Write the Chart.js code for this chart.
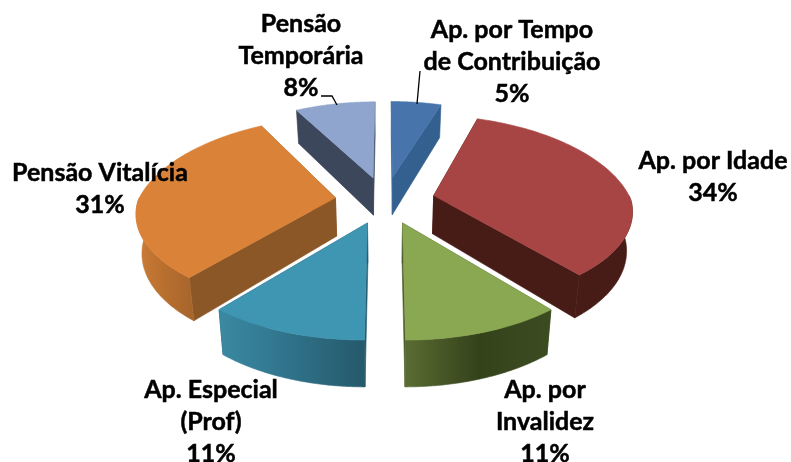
<!DOCTYPE html>
<html><head><meta charset="utf-8">
<style>html,body{margin:0;padding:0;background:#fff}#wrap{width:791px;height:462px}</style>
<script src="https://cdn.jsdelivr.net/npm/chart.js@4/dist/chart.umd.min.js"></script>
</head><body><div id="wrap"><canvas id="c" width="791" height="462"></canvas></div>
<script>
const categories = ["Ap. por Tempo de Contribuição","Ap. por Idade","Ap. por Invalidez","Ap. Especial (Prof)","Pensão Vitalícia","Pensão Temporária"];
const values = [5,34,11,11,31,8];
const labelLines = [["Ap. por Tempo","de Contribuição"],["Ap. por Idade"],["Ap. por","Invalidez"],["Ap. Especial","(Prof)"],["Pensão Vitalícia"],["Pensão","Temporária"]];
const labelCenterX = [512,713,545,211,100,301];
const labelFirstY = [30,161,390,390,173,24];
const topColors = ["#4674ab","#a74545","#8aa851","#3f96b2","#da8238","#8fa5cd"];
const cutColors = ["#34608f","#471b16","#4a5a2a","#25596b","#8c5727","#3d475c"];
const wallStops = [["#34608f","#34608f"],["#471b16","#471b16"],["#5a6c33","#34421a","#3c4c21"],["#3a89a3","#2f7289","#25596b"],["#cc7c38","#b9702f","#a9662c"],["#3d475c","#3d475c"]];
const leaderLines = [[[417,104],[420,71]],null,null,null,null,[[337,105],[332,96],[321,96]]];

const PERSP_Y = 0.00073, PERSP_XF = 0.00071, PERSP_XB = 0.00096, TILT = 0.4716, DEPTH = 38.5, TAPER = 0.00062;
const pie3d = {
  id:'pie3d',
  beforeDatasetDraw(chart){
    const ctx = chart.ctx, meta = chart.getDatasetMeta(0);
    const slices = meta.data.map((el,i)=>{
      const o = el.options.offset, mid=(el.startAngle+el.endAngle)/2;
      const ox=Math.cos(mid)*o, oy=Math.sin(mid)*o, r=el.outerRadius;
      const proj=(a,rad,z)=>{
        const X=ox+Math.cos(a)*rad, Y=oy+Math.sin(a)*rad;
        const sy=1/(1-PERSP_Y*Y), sx=1/(1-(Y<0?PERSP_XB:PERSP_XF)*Y);
        return [el.x+X*sx*(1-TAPER*z), el.y+TILT*Y*sy+z*sy, Y];
      };
      return {el,i,r,proj};
    });
    const poly=(pts,fill)=>{ctx.beginPath();pts.forEach((p,k)=>k?ctx.lineTo(p[0],p[1]):ctx.moveTo(p[0],p[1]));ctx.closePath();ctx.fillStyle=fill;ctx.fill();ctx.strokeStyle=fill;ctx.lineWidth=.6;ctx.stroke();};
    const N=80;
    slices.sort((a,b)=>{const m=s=>Math.sin((s.el.startAngle+s.el.endAngle)/2);return m(a)-m(b);});
    slices.forEach(({el,i,r,proj})=>{
      const a0=el.startAngle,a1=el.endAngle,faces=[];
      [a0,a1].forEach(a=>{
        const q=[proj(a,0,0),proj(a,r,0),proj(a,r,DEPTH),proj(a,0,DEPTH)];
        faces.push({y:(q[0][2]+q[1][2])/2,draw:()=>poly(q,cutColors[i])});
      });
      let w0=a0,w1=a1; const TWO=2*Math.PI;
      const norm=a=>{while(a<-Math.PI/2)a+=TWO;return a;};
      w0=norm(a0);w1=w0+(a1-a0);
      w0=Math.max(w0,0);w1=Math.min(w1,Math.PI);
      if(w1>w0){
        const up=[],dn=[];
        for(let k=0;k<=N;k++){const a=w0+(w1-w0)*k/N;up.push(proj(a,r,0));dn.unshift(proj(a,r,DEPTH));}
        const xs=up.map(p=>p[0]);
        const g=ctx.createLinearGradient(Math.min(...xs),0,Math.max(...xs),0);
        const st=wallStops[i];st.forEach((c,k)=>g.addColorStop(k/(st.length-1),c));
        faces.push({y:1e6,draw:()=>poly(up.concat(dn),g)});
      }
      faces.sort((p,q)=>p.y-q.y).forEach(f=>f.draw());
      const top=[proj(a0,0,0)];
      for(let k=0;k<=N;k++)top.push(proj(a0+(a1-a0)*k/N,r,0));
      poly(top,el.options.backgroundColor);
    });
    return false;
  },
  afterDraw(chart){
    const ctx=chart.ctx;
    ctx.save();
    ctx.strokeStyle="#000";ctx.lineWidth=1.3;
    leaderLines.forEach(l=>{if(!l)return;ctx.beginPath();l.forEach((p,k)=>k?ctx.lineTo(p[0],p[1]):ctx.moveTo(p[0],p[1]));ctx.stroke();});
    ctx.fillStyle="#000";ctx.font="bold 25px Lato";ctx.textAlign="center";ctx.textBaseline="middle";
    ctx.lineWidth=.5;
    const lh=32;
    labelLines.forEach((ls,i)=>{
      const all=ls.concat([values[i]+"%"]);
      all.forEach((t,k)=>{const y=labelFirstY[i]+k*lh;ctx.fillText(t,labelCenterX[i],y);ctx.strokeText(t,labelCenterX[i],y);});
    });
    ctx.restore();
  }
};
new Chart(document.getElementById('c'),{
  type:'pie',
  data:{labels:categories,datasets:[{data:values,backgroundColor:topColors,borderWidth:0,offset:50,radius:197}]},
  options:{responsive:false,animation:false,rotation:0,
    layout:{padding:{left:0,top:0,right:21,bottom:62}},
    plugins:{legend:{display:false},tooltip:{enabled:false}}},
  plugins:[pie3d]
});
</script></body></html>
